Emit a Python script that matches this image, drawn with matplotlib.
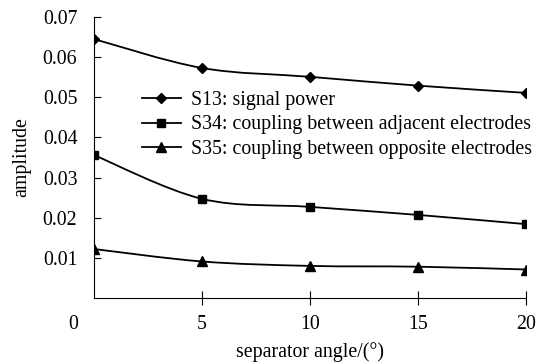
import numpy as np
import matplotlib
matplotlib.use('Agg')
import matplotlib.pyplot as plt
from matplotlib.path import Path
from matplotlib.patches import PathPatch
from matplotlib.lines import Line2D

angles = [0, 5, 10, 15, 20]
s13 = [0.0645, 0.0573, 0.0551, 0.0529, 0.0511]
s34 = [0.0356, 0.0247, 0.0227, 0.0207, 0.0184]
s35 = [0.0122, 0.0091, 0.0080, 0.0078, 0.0071]
labels = ['S13: signal power',
          'S34: coupling between adjacent electrodes',
          'S35: coupling between opposite electrodes']
markers = ['D', 's', '^']
msizes = [5, 6, 7]

plt.rcParams['font.family'] = ['Liberation Serif', 'DejaVu Serif']
FS = 14.3


def smooth_path(x, y):
    # Excel-style smoothed line: cubic Bezier segments, Catmull-Rom control points
    pts = np.column_stack([x, y]).astype(float)
    n = len(pts)
    verts = [pts[0]]
    codes = [Path.MOVETO]
    for i in range(n - 1):
        p0 = pts[max(i - 1, 0)]
        p1 = pts[i]
        p2 = pts[i + 1]
        p3 = pts[min(i + 2, n - 1)]
        c1 = p1 + (p2 - p0) / 6.0
        c2 = p2 - (p3 - p1) / 6.0
        verts += [c1, c2, p2]
        codes += [Path.CURVE4] * 3
    return Path(verts, codes)


fig = plt.figure(figsize=(5.38, 3.64), dpi=100)
ax = fig.add_axes([0.1747, 0.1813, 0.803, 0.772])

handles = []
for ys, m, ms, lab in zip([s13, s34, s35], markers, msizes, labels):
    ax.add_patch(PathPatch(smooth_path(angles, ys), facecolor='none',
                           edgecolor='black', lw=1.3))
    ax.plot(angles, ys, linestyle='none', marker=m, ms=ms, color='black')
    handles.append(Line2D([], [], color='black', lw=1.3, marker=m, ms=ms))

ax.set_xlim(0, 20)
ax.set_ylim(0, 0.07)
ax.set_xticks([5, 10, 15, 20])
ax.set_yticks([0.01, 0.02, 0.03, 0.04, 0.05, 0.06, 0.07])
ax.set_yticklabels(['0.01', '0.02', '0.03', '0.04', '0.05', '0.06', '0.07'])
ax.tick_params(axis='y', direction='in', length=5, labelsize=FS, pad=12)
ax.tick_params(axis='x', direction='inout', length=10, labelsize=FS, pad=7)
ax.spines['top'].set_visible(False)
ax.spines['right'].set_visible(False)
ax.text(-0.047, -0.095, '0', transform=ax.transAxes, fontsize=FS,
        ha='center', va='center')

ax.set_xlabel('separator angle/(°)', fontsize=FS, labelpad=6)
ax.set_ylabel('amplitude', fontsize=FS, labelpad=8)

ax.legend(handles, labels, loc='upper left', bbox_to_anchor=(0.11, 0.737),
          frameon=False, fontsize=FS, handlelength=2.0, handletextpad=0.5,
          labelspacing=0.28, borderaxespad=0, borderpad=0)

fig.savefig('out.png', dpi=100)
